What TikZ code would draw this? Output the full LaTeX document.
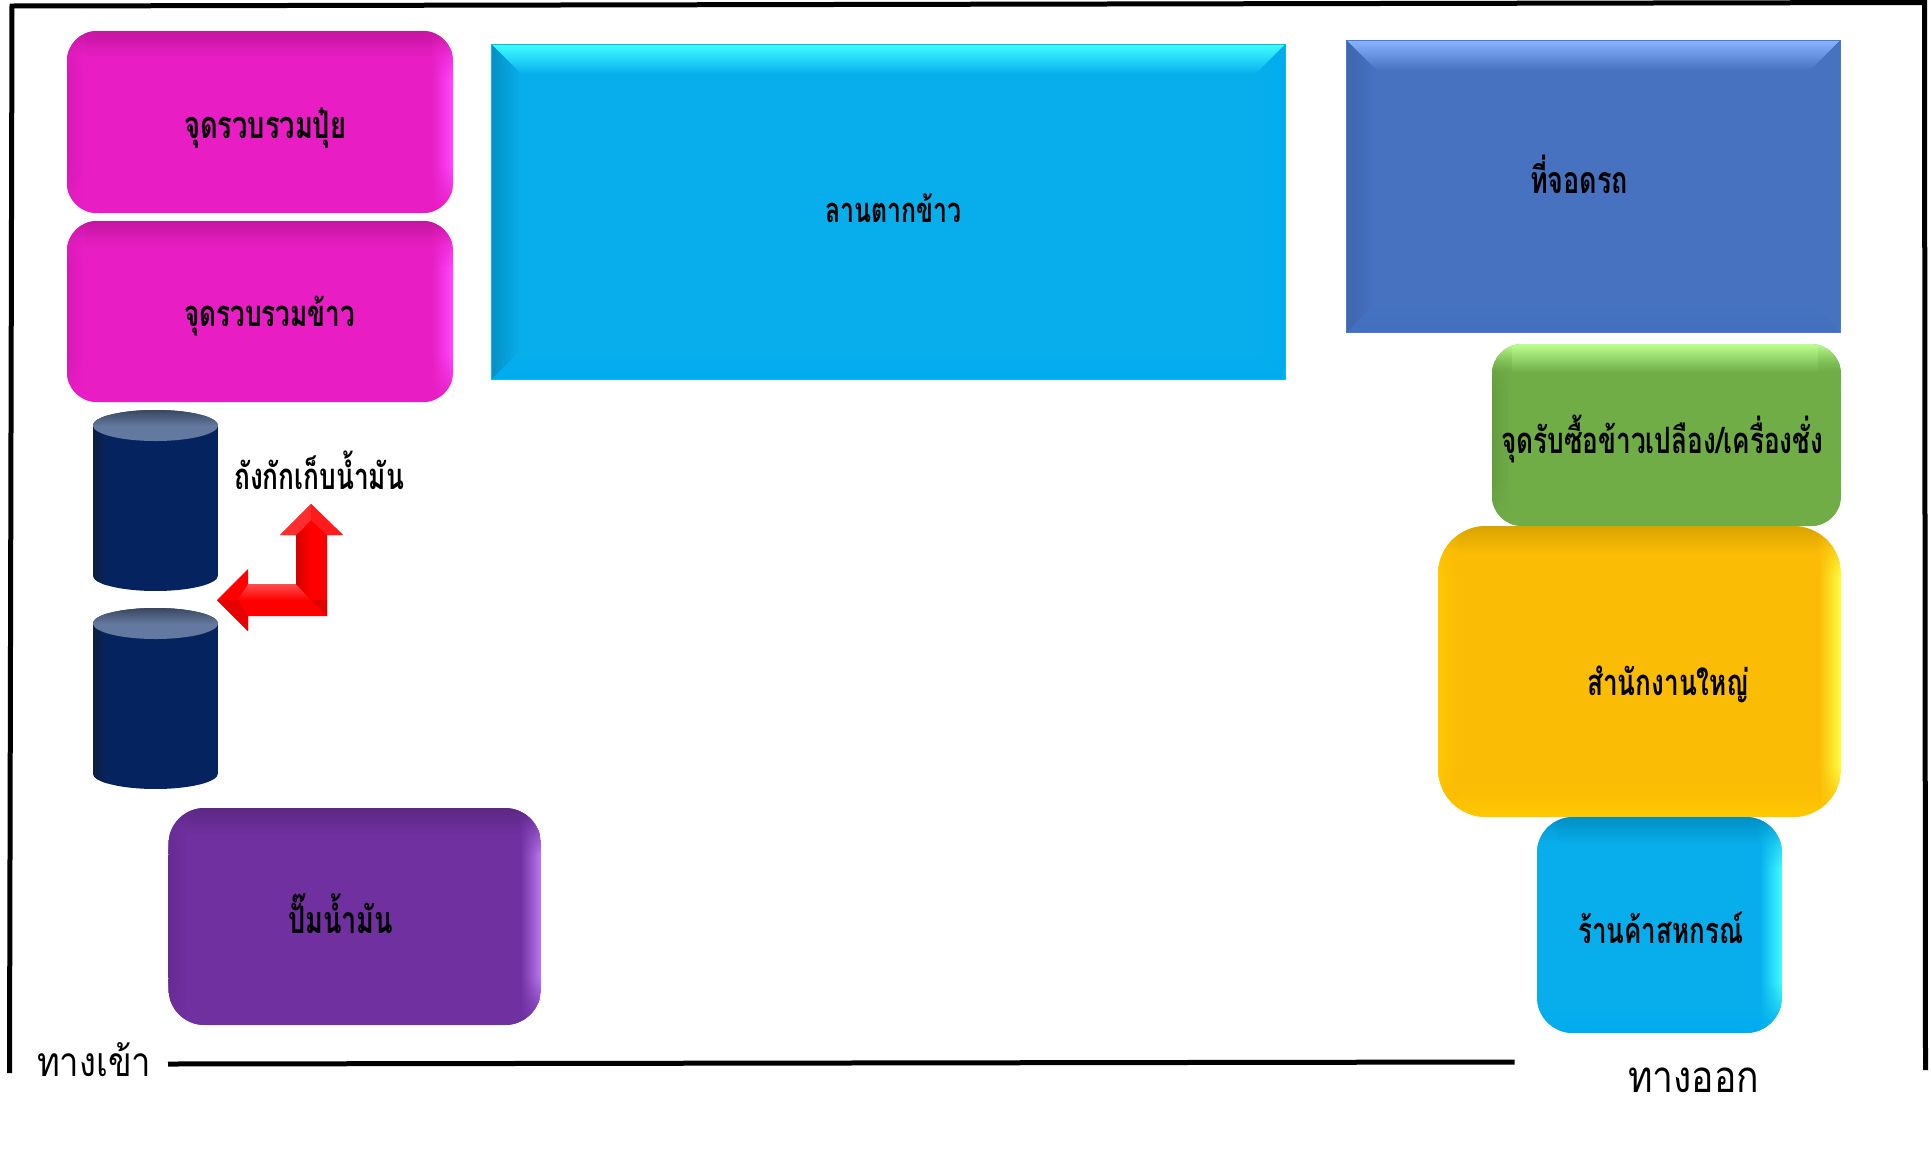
\documentclass[tikz,border=0pt]{standalone}
\usepackage{fontspec}
\usepackage{graphicx}
\newfontfamily\thaibold[Script=Thai,FakeStretch=0.72]{Loma}
\newfontfamily\thaithin[Script=Thai,FakeStretch=0.85]{Loma}
\usetikzlibrary{calc,fadings}

\definecolor{pinkB}{HTML}{E81EC4}\definecolor{pinkT}{HTML}{C416A0}\definecolor{pinkR}{HTML}{FF48FF}\definecolor{pinkL}{HTML}{D818B8}
\definecolor{skyB}{HTML}{08AEEC}\definecolor{skyT}{HTML}{40FFFF}\definecolor{skyL}{HTML}{0490C4}\definecolor{skyBt}{HTML}{00ACEE}\definecolor{skyEdge}{HTML}{08BCEC}
\definecolor{blueB}{HTML}{4672C0}\definecolor{blueT}{HTML}{88B4FF}\definecolor{blueL}{HTML}{3E66AC}\definecolor{blueBt}{HTML}{416FBF}\definecolor{blueEdge}{HTML}{4A78DC}
\definecolor{greenB}{HTML}{70AD47}\definecolor{greenT}{HTML}{BCFF90}\definecolor{greenL}{HTML}{659C40}
\definecolor{amberB}{HTML}{FBBC05}\definecolor{amberT}{HTML}{D9A400}\definecolor{amberR}{HTML}{FFFF40}\definecolor{amberL}{HTML}{FFC800}
\definecolor{shopT}{HTML}{0090C4}\definecolor{shopR}{HTML}{40FFFF}
\definecolor{violetB}{HTML}{7030A0}\definecolor{violetT}{HTML}{5C2884}\definecolor{violetR}{HTML}{B878F0}\definecolor{violetL}{HTML}{652B90}
\definecolor{tankB}{HTML}{05245F}\definecolor{tankL}{HTML}{0D1E40}\definecolor{tankTop}{HTML}{64799F}\definecolor{tankRim}{HTML}{3A4761}
\definecolor{arrowLight}{HTML}{FF4C4C}\definecolor{arrowDark}{HTML}{D40000}

% four mitred bevel facets around a flat face
% args: x1 y1 x2 y2 band base top bottom left right
\newcommand{\bevelfaces}[9]{%
  \def\bvTop{#7}\def\bvBot{#8}\def\bvLeft{#9}\bevelfacesB{#1}{#2}{#3}{#4}{#5}{#6}}
\newcommand{\bevelfacesB}[7]{%
  \pgfmathsetmacro\bvXa{#1+#5}\pgfmathsetmacro\bvXb{#3-#5}%
  \pgfmathsetmacro\bvYa{#2+#5}\pgfmathsetmacro\bvYb{#4-#5}%
  \fill[#6] (#1,#2) rectangle (#3,#4);
  \shade[top color=\bvTop,bottom color=#6] (#1,#2) -- (#3,#2) -- (\bvXb,\bvYa) -- (\bvXa,\bvYa) -- cycle;
  \shade[top color=#6,bottom color=\bvBot] (#1,#4) -- (#3,#4) -- (\bvXb,\bvYb) -- (\bvXa,\bvYb) -- cycle;
  \shade[left color=\bvLeft,right color=#6] (#1,#2) -- (\bvXa,\bvYa) -- (\bvXa,\bvYb) -- (#1,#4) -- cycle;
  \shade[left color=#6,right color=#7] (#3,#2) -- (\bvXb,\bvYa) -- (\bvXb,\bvYb) -- (#3,#4) -- cycle;
}
\newcommand{\bevelrect}[5]{\begin{scope}\bevelfaces{#1}{#2}{#3}{#4}#5\end{scope}}

% soft bevel for round-cornered panels: side bands melt into the top and bottom
% args: x1 y1 x2 y2 band base top bottom left right
\newcommand{\softfaces}[9]{%
  \def\bvTop{#7}\def\bvBot{#8}\def\bvLeft{#9}\softfacesB{#1}{#2}{#3}{#4}{#5}{#6}}
\newcommand{\softfacesB}[7]{%
  \pgfmathsetmacro\bvXa{#1+#5*0.7}\pgfmathsetmacro\bvXb{#3-#5*0.8}%
  \pgfmathsetmacro\bvYa{#2+#5}\pgfmathsetmacro\bvYb{#4-#5}%
  \pgfmathsetmacro\bvYc{#2+#5*1.8}\pgfmathsetmacro\bvYd{#4-#5*1.8}%
  \fill[#6] (#1,#2) rectangle (#3,#4);
  \shade[top color=\bvTop,bottom color=#6] (#1,#2) rectangle (#3,\bvYa);
  \shade[top color=#6,bottom color=\bvBot] (#1,\bvYb) rectangle (#3,#4);
  \shade[left color=\bvLeft,right color=#6] (#1,\bvYc) rectangle (\bvXa,\bvYd);
  \shade[left color=\bvLeft,right color=#6,path fading=north] (#1,#2) rectangle (\bvXa,\bvYc);
  \shade[left color=\bvLeft,right color=#6,path fading=south] (#1,\bvYd) rectangle (\bvXa,#4);
  \shade[left color=#6,middle color=#7!22!#6,right color=#7] (\bvXb,\bvYc) rectangle (#3,\bvYd);
  \shade[left color=#6,middle color=#7!22!#6,right color=#7,path fading=north] (\bvXb,#2) rectangle (#3,\bvYc);
  \shade[left color=#6,middle color=#7!22!#6,right color=#7,path fading=south] (\bvXb,\bvYd) rectangle (#3,#4);
}
% round-cornered panel: radius, corners, colour set
\newcommand{\softbox}[6]{%
  \begin{scope}
    \clip[rounded corners=#1pt] (#2,#3) rectangle (#4,#5);
    \softfaces{#2}{#3}{#4}{#5}#6
  \end{scope}}
% text fitted between two x positions on a given baseline
\newcommand{\boldlabel}[5]{%
  \pgfmathsetmacro\lbW{#3-#2}%
  \node[anchor=base west,inner sep=0pt] (#1) at (#2,#4) {\resizebox{\lbW pt}{!}{\fontsize{30}{36}\selectfont\thaibold\bfseries #5}};}
\newcommand{\thinlabel}[5]{%
  \pgfmathsetmacro\lbW{#3-#2}%
  \node[anchor=base west,inner sep=0pt] (#1) at (#2,#4) {\resizebox{\lbW pt}{!}{\fontsize{30}{36}\selectfont\thaithin #5}};}
% storage tank: left, right, top of rim, bottom
\newcommand{\tank}[4]{%
  \pgfmathsetmacro\tkC{(#1+#2)/2}\pgfmathsetmacro\tkRx{(#2-#1)/2}%
  \pgfmathsetmacro\tkUp{#3+15.5}\pgfmathsetmacro\tkDn{#4-15.5}%
  \begin{scope}
    \clip (#1,\tkUp) -- (#1,\tkDn) arc[start angle=180,end angle=360,x radius=\tkRx pt,y radius=15.5pt]
      -- (#2,\tkUp) arc[start angle=0,end angle=180,x radius=\tkRx pt,y radius=15.5pt] -- cycle;
    \fill[tankB] (#1,#3) rectangle (#2,#4);
    \pgfmathsetmacro\tkE{#1+14}%
    \shade[left color=tankL,right color=tankB] (#1,#3) rectangle (\tkE,#4);
  \end{scope}
  \begin{scope}
    \fill[tankTop] (\tkC,\tkUp) ellipse[x radius=\tkRx pt,y radius=15.5pt];
    \clip (\tkC,\tkUp) ellipse[x radius=\tkRx pt,y radius=15.5pt];
    \pgfmathsetmacro\tkM{#3+16}%
    \shade[top color=tankRim,bottom color=tankTop] (#1,#3) rectangle (#2,\tkM);
  \end{scope}}

\begin{document}
\begin{tikzpicture}[x=1pt,y=-1pt,wall/.style={line width=5pt,black}]
\useasboundingbox (0,0) rectangle (1931,1152);

% site boundary
\draw[wall] (9.5,1073) -- (12,6) -- (1924.5,2.5) -- (1925.5,1070);
\coordinate (roadA) at (168,1064);
\coordinate (roadB) at (1514.5,1062);
\draw[wall] (roadA) -- (roadB);

% round-cornered buildings
\softbox{30}{67}{31}{453}{213}{{26}{pinkB}{pinkT}{pinkB}{pinkL}{pinkR}}
\softbox{30}{67}{221}{453}{402}{{26}{pinkB}{pinkT}{pinkB}{pinkL}{pinkR}}
\softbox{30}{1492}{344}{1841}{526}{{28}{greenB}{greenT}{greenB}{greenL}{greenB}}
\softbox{48}{1438}{526}{1841}{817}{{28}{amberB}{amberT}{amberL}{amberL}{amberR}}
\softbox{36}{1537}{817}{1782}{1033}{{28}{skyB}{shopT}{skyBt}{skyB}{shopR}}
\softbox{36}{168.5}{808}{541}{1025}{{26}{violetB}{violetT}{violetB}{violetL}{violetR}}

% square-cornered yards
\bevelrect{491}{44}{1285.5}{379.5}{{30}{skyB}{skyT}{skyBt}{skyL}{skyBt}}
\draw[skyEdge,line width=1pt] (491,44) rectangle (1285.5,379.5);
\bevelrect{1346}{40}{1840.5}{332.5}{{30}{blueB}{blueT}{blueBt}{blueL}{blueB}}
\draw[blueEdge,line width=1pt] (1346,40) rectangle (1840.5,332.5);

% fuel tanks
\tank{93}{218}{410}{591}
\tank{93}{218}{608}{789}

% bent block arrow between the tanks
\fill[red] (217,600) -- (248,569) -- (248,584) -- (296,584) -- (296,535) -- (280,535)
  -- (311,504) -- (343,535) -- (327,535) -- (327,616) -- (248,616) -- (248,631) -- cycle;
\shade[top color=arrowLight,bottom color=red] (248,584) -- (296,584) -- (311,600) -- (238,600) -- cycle;
\shade[left color=arrowDark,right color=red] (296,584) -- (296,535) -- (311,525) -- (311,600) -- cycle;
\fill[arrowDark!70!red] (327,616) -- (311,600) -- (327,600) -- cycle;
\fill[arrowDark!55!red] (217,600) -- (248,631) -- (248,616) -- (238,600) -- cycle;
\fill[arrowLight!60!red] (280,535) -- (311,504) -- (311,520) -- (296,535) -- cycle;
\fill[arrowLight!35!red] (311,504) -- (343,535) -- (327,535) -- (311,520) -- cycle;

% labels
\boldlabel{fert}{184}{346}{138}{จุดรวบรวมปุ๋ย}
\boldlabel{rice}{184}{355}{326}{จุดรวบรวมข้าว}
\boldlabel{yard}{825}{961}{222}{ลานตากข้าว}
\boldlabel{park}{1530}{1628}{193}{ที่จอดรถ}
\boldlabel{buy}{1501}{1823}{453}{จุดรับซื้อข้าวเปลือง/เครื่องชั่ง}
\boldlabel{office}{1587}{1749}{695}{สำนักงานใหญ่}
\boldlabel{shop}{1578}{1743}{943}{ร้านค้าสหกรณ์}
\boldlabel{pump}{288}{393}{933}{ปั๊มน้ำมัน}
\boldlabel{tanks}{234}{404}{489}{ถังกักเก็บน้ำมัน}
\thinlabel{entry}{37}{151}{1076}{ทางเข้า}
\thinlabel{exit}{1628}{1759}{1092}{ทางออก}
\end{tikzpicture}
\end{document}
